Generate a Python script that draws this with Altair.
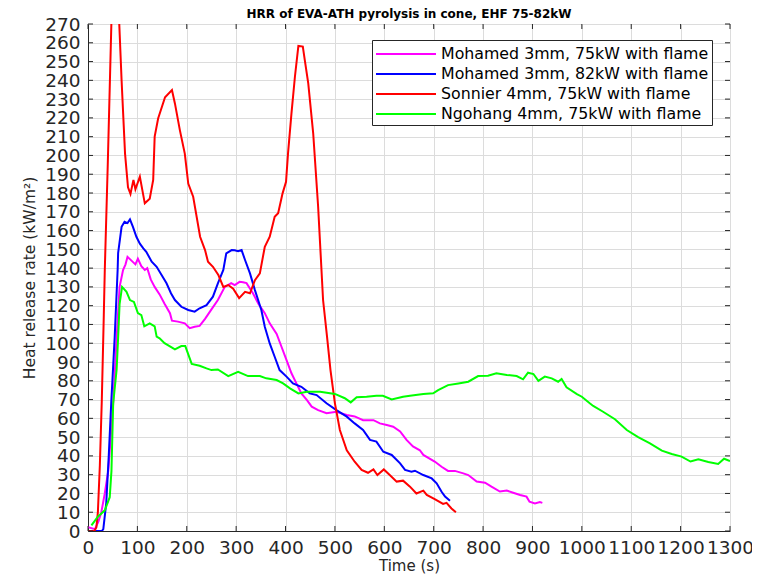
import altair as alt
import pandas as pd

# ---- data ----
SERIES = [
    "Mohamed 3mm, 75kW with flame",
    "Mohamed 3mm, 82kW with flame",
    "Sonnier 4mm, 75kW with flame",
    "Ngohang 4mm, 75kW with flame",
]
COLORS = ["#ff00ff", "#0000ff", "#ff0000", "#00ff00"]

m75_t = [0, 14, 21, 27, 34, 41, 51, 58, 64, 71, 76, 80, 88, 96, 101, 108, 115, 120, 127, 135,
         145, 155, 166, 170, 182, 196, 206, 216, 226, 237, 250, 263, 277, 290, 297, 307, 314,
         321, 334, 345, 358, 368, 382, 392, 402, 412, 422, 432, 443, 453, 466, 483, 503, 524,
         540, 557, 578, 591, 605, 618, 632, 645, 658, 672, 679, 702, 716, 729, 743, 760, 770,
         787, 804, 817, 834, 848, 861, 875, 888, 894, 905, 915, 920]
m75_y = [2, 1, 5, 10, 20, 32, 68, 103, 130, 139, 142, 146, 144, 142, 145, 141, 139, 140, 134, 130,
         126, 121, 116, 112, 111.5, 110.6, 108, 108.8, 109.2, 113, 118, 123, 130, 132, 131, 132.7, 132.5,
         132, 126.6, 121, 116, 110.6, 105, 98, 91, 84, 78.6, 73.3, 69.8, 66.2, 64.4, 62.7, 63.5, 61.8,
         61, 59, 59, 57.3, 56.4, 55.5, 53, 48.5, 45, 43, 40.5, 37, 34.2, 32, 32, 30.7, 29.8,
         26.3, 25.7, 23.6, 21, 21.5, 20.4, 19.2, 18.3, 15.6, 14.7, 15.4, 15]

m82_t = [0, 28, 31, 37, 42, 47, 54, 60, 61, 68, 74, 80, 85, 91, 98, 105, 112, 118, 129, 139, 149,
         159, 168, 176, 189, 203, 216, 226, 240, 253, 263, 274, 280, 291, 297, 304, 311, 318, 328,
         338, 351, 358, 368, 378, 388, 402, 415, 432, 449, 463, 483, 503, 524, 540, 557, 571, 584,
         598, 615, 632, 642, 655, 662, 679, 696, 706, 716, 723, 733]
m82_y = [0, 0, 1, 15, 40, 68, 103, 139, 148, 162, 164.7, 164, 166, 162, 156.7, 153, 150.5, 148.7, 143.4, 140.7, 136.3,
         131.9, 126.6, 123, 119.4, 117.7, 116.8, 118.6, 120.3, 124.8, 131.9, 139, 147.9, 149.6, 149.5, 149, 149.6, 144.3, 137.2,
         128.3, 117.7, 108.8, 99.9, 92.8, 85.7, 82.2, 78.6, 76.8, 73.3, 72.4, 68, 64.4, 60.9, 57.3, 53.8, 48.5, 47.6,
         42.2, 40.5, 36, 32.5, 31.6, 32.1, 29.8, 28, 25.4, 20.9, 18.3, 16.1]

son_t = [0, 13, 17, 20, 24, 28, 32, 34, 40, 47.5, 55, 63, 68, 75, 81, 86, 92, 96, 105, 115, 125,
         132, 135, 142, 156, 170, 176, 186, 196, 203, 213, 227, 237, 243, 253, 264, 274, 284, 294,
         306, 318, 328, 338, 348, 358, 368, 378, 385, 394, 401, 405, 412, 419, 426, 435, 439, 446,
         456, 466, 476, 484, 491, 500, 510, 524, 540, 554, 567, 578, 586, 599, 611, 625, 638, 652,
         665, 679, 686, 703, 719, 726, 736, 745]
son_y = [0, 0, 2, 10, 35, 70, 115, 139, 195, 272, 310, 272, 240, 201, 183, 179.5, 187, 182, 188.7, 174.5, 177,
         187, 210, 219.7, 231, 234.8, 227.7, 213.5, 201, 185, 178, 156.7, 149.6, 143.4, 140.7, 136.3, 130, 131, 129,
         124, 127.4, 126.6, 133.6, 137.2, 151.4, 156.7, 167.4, 169.2, 179.8, 186, 201, 222.4, 241.9, 258.3, 258, 250.8, 238.4,
         211.8, 172.7, 123, 103.5, 85.7, 68, 53.8, 43, 36.9, 32.5, 31, 32.8, 29.8, 32.8, 29.8, 26.3, 26.8, 23.6,
         20, 21.5, 19.2, 16.9, 14.4, 15, 12, 10]

ngo_t = [7, 20, 34, 44, 47.5, 51, 58, 61, 64, 69, 78, 85, 93, 101, 108, 114, 125, 135, 139, 145,
         155, 176, 189, 197, 210, 226, 240, 250, 263, 284, 304, 324, 348, 361, 382, 395, 409, 426,
         443, 470, 500, 520, 532, 544, 564, 584, 597, 615, 638, 652, 679, 699, 709, 729, 750, 770,
         790, 810, 827, 848, 868, 881, 891, 902, 912, 925, 939, 952, 959, 969, 990, 1000, 1016,
         1023, 1043, 1067, 1091, 1114, 1138, 1162, 1182, 1202, 1220, 1236, 1256, 1276, 1288, 1300]
ngo_y = [3, 7.6, 11, 18, 32, 68, 86, 103, 121, 130, 127.4, 123, 122, 116, 115, 109, 110.6, 109, 103.5, 102.6,
         100, 96.7, 98.5, 98.5, 89, 88, 86.6, 85.7, 86, 82.5, 84.8, 82.5, 82.5, 81.3, 80.4, 78.6, 76, 73.3,
         74.2, 74.2, 73, 70.7, 68.5, 71.2, 71.5, 72, 72, 70.1, 71.5, 72, 73, 73.3, 75, 77.7, 78.6, 79.5,
         82.5, 82.7, 84, 83.1, 82.5, 80.8, 84.3, 83.6, 80, 82.2, 81.3, 79.5, 81, 76.5, 72.9, 71.5, 68,
         66.6, 63.5, 59.5, 53.8, 50, 46.7, 42.8, 41, 39.6, 37, 38.2, 36.7, 35.7, 38.5, 37.3]

X_TICKS = list(range(0, 1301, 100))
Y_TICKS = list(range(0, 271, 10))

TITLE = "HRR of EVA-ATH pyrolysis in cone, EHF 75-82kW"
X_TITLE = "Time (s)"
Y_TITLE = "Heat release rate (kW/m\u00b2)"

# ---- build table ----
rows = []
for name, ts, ys in zip(SERIES, [m75_t, m82_t, son_t, ngo_t], [m75_y, m82_y, son_y, ngo_y]):
    for i, (t, y) in enumerate(zip(ts, ys)):
        rows.append({"t": t, "hrr": y, "series": name, "order": i})
df = pd.DataFrame(rows)

W, H = 642, 507
FONT = "DejaVu Sans"
AX = "#262626"
GRID = "#dcdcdc"

xscale = alt.Scale(domain=[0, 1300], nice=False, zero=False)
yscale = alt.Scale(domain=[0, 270], nice=False, zero=False)

xaxis = alt.Axis(
    values=X_TICKS, format="d", title=X_TITLE, grid=True, gridColor=GRID, ticks=False,
    labelFontSize=18.5, labelFont=FONT, labelColor=AX, labelPadding=7,
    labelOverlap=False, labelFlush=False, domainColor=AX,
    titleFont=FONT, titleFontSize=15, titleFontWeight="normal", titleColor=AX, titlePadding=2)
yaxis = alt.Axis(
    values=Y_TICKS, format="d", title=Y_TITLE, grid=True, gridColor=GRID, ticks=False,
    labelFontSize=18.5, labelFont=FONT, labelColor=AX, labelPadding=8,
    labelOverlap=False, labelFlush=False, domainColor=AX,
    titleFont=FONT, titleFontSize=15.5, titleFontWeight="normal", titleColor=AX, titlePadding=7)

lines = alt.Chart(df).mark_line(strokeWidth=2, clip=True).encode(
    x=alt.X("t:Q", scale=xscale, axis=xaxis),
    y=alt.Y("hrr:Q", scale=yscale, axis=yaxis),
    color=alt.Color("series:N", scale=alt.Scale(domain=SERIES, range=COLORS),
                    legend=alt.Legend(orient="none", legendX=284, legendY=16, title=None,
                                      symbolType="M-1,0H5", symbolSize=400, symbolStrokeWidth=2,
                                      symbolFillColor="transparent",
                                      labelFontSize=15.8, labelFont=FONT, labelColor="black",
                                      strokeColor=AX, fillColor="white", padding=3,
                                      rowPadding=1, labelOffset=44, labelLimit=400)),
    order="order:Q",
    detail="series:N",
)

# inward tick marks on all four sides (MATLAB box style)
xt = pd.DataFrame({"t": X_TICKS})
yt = pd.DataFrame({"hrr": Y_TICKS})
tick_style = dict(color=AX, strokeWidth=1)
xb = alt.Chart(xt).mark_rule(**tick_style).encode(
    x=alt.X("t:Q", scale=xscale, axis=xaxis), y=alt.value(H), y2=alt.value(H - 5))
xtop = alt.Chart(xt).mark_rule(**tick_style).encode(
    x=alt.X("t:Q", scale=xscale, axis=xaxis), y=alt.value(0), y2=alt.value(5))
yl = alt.Chart(yt).mark_rule(**tick_style).encode(
    y=alt.Y("hrr:Q", scale=yscale, axis=yaxis), x=alt.value(0), x2=alt.value(5))
yr = alt.Chart(yt).mark_rule(**tick_style).encode(
    y=alt.Y("hrr:Q", scale=yscale, axis=yaxis), x=alt.value(W), x2=alt.value(W - 5))

chart = alt.layer(lines, xb, xtop, yl, yr).properties(
    width=W, height=H,
    padding={"left": 80, "top": 16, "right": 22, "bottom": 44},
    autosize=alt.AutoSizeParams(type="none"),
    title=alt.TitleParams(TITLE, font=FONT, fontSize=12, fontWeight="bold", color="black",
                          anchor="middle", offset=3, dy=9),
).configure_view(stroke=AX, strokeWidth=1).configure(background="white")

chart.save("out.html", embed_options={"renderer": "svg", "actions": False})
